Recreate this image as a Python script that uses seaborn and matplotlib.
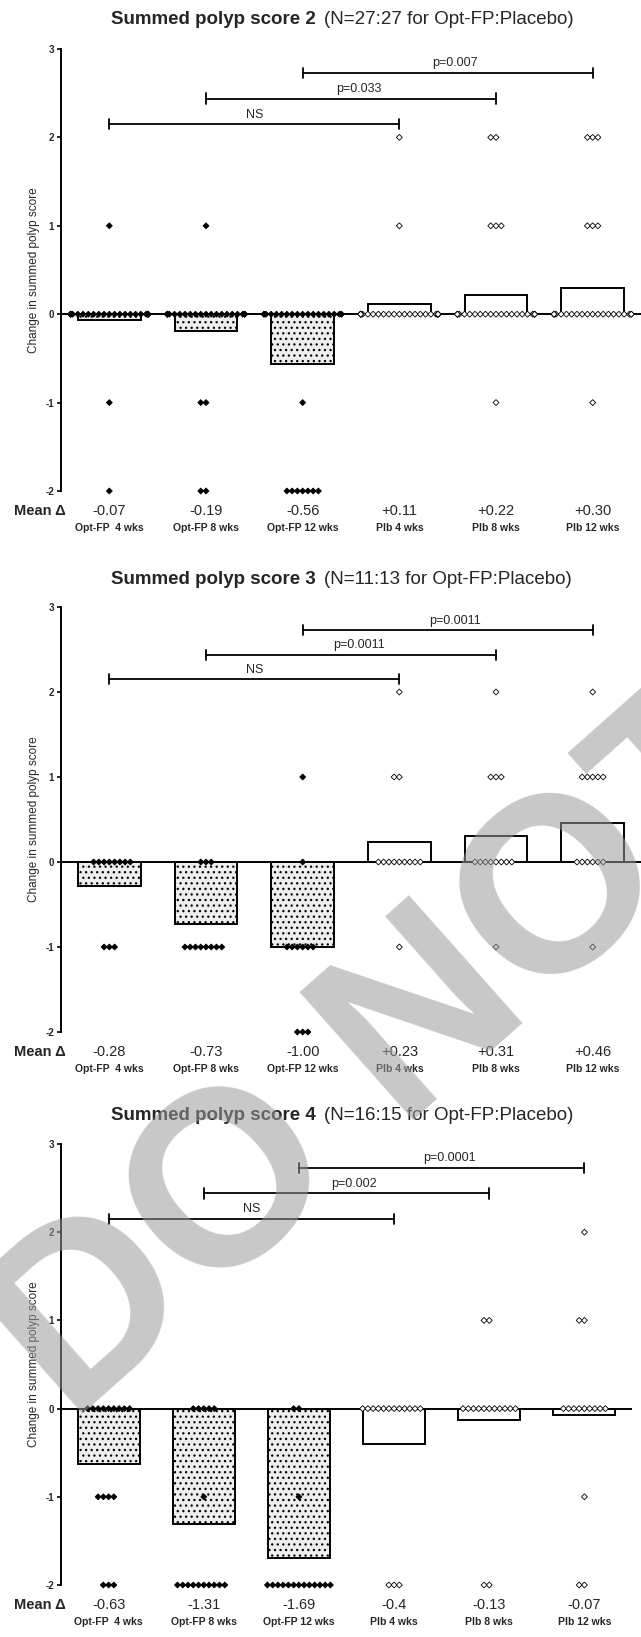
import numpy as np
import pandas as pd
import matplotlib
matplotlib.use("Agg")
import matplotlib.pyplot as plt
import seaborn as sns

sns.set_style("ticks")
plt.rcParams['font.family'] = ['Liberation Sans', 'DejaVu Sans']
plt.rcParams['hatch.linewidth'] = 0.9
plt.rcParams['axes.unicode_minus'] = False

GROUPS = ["Opt-FP  4 wks", "Opt-FP 8 wks", "Opt-FP 12 wks", "Plb 4 wks", "Plb 8 wks", "Plb 12 wks"]
ARM = ["Opt-FP", "Opt-FP", "Opt-FP", "Placebo", "Placebo", "Placebo"]
LEVELS = [2, 1, 0, -1, -2]

# number of patients at each change level (2, 1, 0, -1, -2) per group
COUNTS_2 = [[0, 1, 24, 1, 1], [0, 1, 22, 2, 2], [0, 0, 19, 1, 7],
            [1, 1, 25, 0, 0], [2, 3, 21, 1, 0], [3, 3, 20, 1, 0]]
COUNTS_3 = [[0, 0, 8, 3, 0], [0, 0, 3, 8, 0], [0, 1, 1, 6, 3],
            [1, 2, 9, 1, 0], [1, 3, 8, 1, 0], [1, 5, 6, 1, 0]]
COUNTS_4 = [[0, 0, 9, 4, 3], [0, 0, 5, 1, 10], [0, 0, 2, 1, 13],
            [0, 0, 12, 0, 3], [0, 2, 11, 0, 2], [1, 2, 9, 1, 2]]

MEANS_2 = [-0.07, -0.19, -0.56, 0.11, 0.22, 0.30]
MEANS_3 = [-0.28, -0.73, -1.00, 0.23, 0.31, 0.46]
MEANS_4 = [-0.63, -1.31, -1.69, -0.4, -0.13, -0.07]

MEAN_LABELS_2 = ["-0.07", "-0.19", "-0.56", "+0.11", "+0.22", "+0.30"]
MEAN_LABELS_3 = ["-0.28", "-0.73", "-1.00", "+0.23", "+0.31", "+0.46"]
MEAN_LABELS_4 = ["-0.63", "-1.31", "-1.69", "-0.4", "-0.13", "-0.07"]

# comparisons: Opt-FP wk n vs Placebo wk n
PAIRS = [(0, 3), (1, 4), (2, 5)]
P_LABELS_2 = ["NS", "p=0.033", "p=0.007"]
P_LABELS_3 = ["NS", "p=0.0011", "p=0.0011"]
P_LABELS_4 = ["NS", "p=0.002", "p=0.0001"]

TITLES_BOLD = ["Summed polyp score 2", "Summed polyp score 3", "Summed polyp score 4"]
TITLES_N = ["(N=27:27 for Opt-FP:Placebo)", "(N=11:13 for Opt-FP:Placebo)",
            "(N=16:15 for Opt-FP:Placebo)"]

W, H = 641, 1637
fig = plt.figure(figsize=(W / 100, H / 100), dpi=100)


def draw_panel(ax, counts, means, mean_labels, p_labels):
    rows = []
    for g, arm, cnt in zip(GROUPS, ARM, counts):
        for lev, c in zip(LEVELS, cnt):
            rows += [(g, arm, lev)] * c
    df = pd.DataFrame(rows, columns=["group", "arm", "change"])

    sns.barplot(x=GROUPS, y=means, order=GROUPS, width=0.65, color="white",
                edgecolor="black", linewidth=1.4, errorbar=None, ax=ax)
    for patch, arm in zip(ax.patches, ARM):
        patch.set_facecolor("white")
        if arm == "Opt-FP":
            patch.set_hatch("...")
            patch.set_facecolor("#eeeeee")
    ax.axhline(0, color="black", lw=1.4, zorder=2)

    sns.swarmplot(data=df, x="group", y="change", order=GROUPS, hue="arm",
                  hue_order=["Opt-FP", "Placebo"],
                  palette={"Opt-FP": "black", "Placebo": "white"},
                  marker="D", size=3, edgecolor="black", linewidth=0.6,
                  legend=False, warn_thresh=1, ax=ax)
    for c in ax.collections:
        c.set_clip_on(False)
        c.set_zorder(3)

    # significance brackets
    for (a, b), lab, y in zip(PAIRS, p_labels, [2.15, 2.44, 2.73]):
        ax.plot([a, b], [y, y], color="black", lw=1.3, clip_on=False)
        for xx in (a, b):
            ax.plot([xx, xx], [y - 0.06, y + 0.06], color="black", lw=1.3, clip_on=False)
        shift = 0 if lab == "NS" else 0.08
        ax.text((a + b) / 2 + shift, y + 0.04, lab, ha="center", va="bottom", fontsize=9)

    ax.set_xlim(-0.5, 5.5)
    ax.set_ylim(-2, 3)
    ax.set_yticks([-2, -1, 0, 1, 2, 3])
    ax.set_xticks([])
    ax.set_xlabel("")
    for s in ("top", "right", "bottom"):
        ax.spines[s].set_visible(False)
    ax.spines["left"].set_color("black")
    ax.spines["left"].set_linewidth(1.4)
    ax.tick_params(axis="y", length=3, width=1.2, labelsize=7, pad=2, color="black")
    for t in ax.get_yticklabels():
        t.set_fontweight("bold")
    ax.set_ylabel("Change in summed polyp score", fontsize=8.5)
    ax.yaxis.set_label_coords(-0.036, 0.5)

    for i, (ml, g) in enumerate(zip(mean_labels, GROUPS)):
        ax.annotate(ml, xy=(i, -2), xytext=(0, -20), textcoords="offset pixels",
                    ha="center", va="center", fontsize=10.5, annotation_clip=False)
        ax.annotate(g, xy=(i, -2), xytext=(0, -37), textcoords="offset pixels",
                    ha="center", va="center", fontsize=7.5, fontweight="bold",
                    annotation_clip=False)
    ax.annotate("Mean \u0394", xy=(0, 0), xycoords="axes fraction", xytext=(-21, -20),
                textcoords="offset pixels", ha="center", va="center", fontsize=10.5,
                fontweight="bold", annotation_clip=False)


# axes boxes in pixels: (top of y=3, bottom of y=-2, right edge)
boxes = [(49, 491, 641), (607, 1032, 641), (1144, 1585, 632)]
title_y = [19, 580, 1115]
data = [(COUNTS_2, MEANS_2, MEAN_LABELS_2, P_LABELS_2),
        (COUNTS_3, MEANS_3, MEAN_LABELS_3, P_LABELS_3),
        (COUNTS_4, MEANS_4, MEAN_LABELS_4, P_LABELS_4)]

for (top, bot, right), ty, d, tb, tn in zip(boxes, title_y, data, TITLES_BOLD, TITLES_N):
    left = 61
    ax = fig.add_axes([left / W, 1 - bot / H, (right - left) / W, (bot - top) / H])
    draw_panel(ax, *d)
    fig.text(316 / W, 1 - ty / H, tb, ha="right", va="center", fontsize=13.5, fontweight="bold")
    fig.text(324 / W, 1 - ty / H, tn, ha="left", va="center", fontsize=13.5)

# watermark
fig.text(71 / W, 212 / H, "DO NOT COPY", rotation=41.6, rotation_mode="anchor",
         ha="left", va="baseline", fontsize=179, fontweight="bold",
         color="#9a9a9a", alpha=0.55, zorder=10)

fig.savefig("out.png", dpi=100)
